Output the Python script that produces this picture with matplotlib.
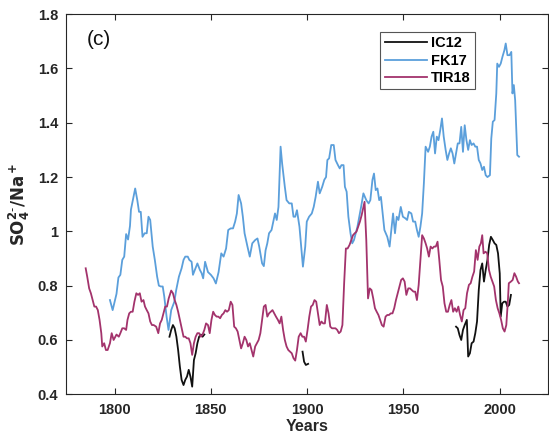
import numpy as np
import matplotlib
matplotlib.use("Agg")
import matplotlib.pyplot as plt

# ---------------- data ----------------
fk17_years = [1797.6, 1799, 1801, 1802, 1803, 1804, 1805, 1806, 1807, 1808, 1808.5, 1810.7, 1811.8, 1812.7,
              1813.6, 1814.5, 1815.6, 1816.7, 1817.6, 1818.5, 1819.8, 1820.9, 1822.1, 1823, 1824, 1825,
              1825.8, 1827, 1828, 1829.4, 1831, 1832, 1833.4, 1834.8, 1835.8, 1836.7, 1838, 1838.8, 1840,
              1840.7, 1841.7, 1843, 1844.3, 1845.2, 1846, 1847, 1848.5, 1850, 1851.4, 1852.6, 1854, 1855.4,
              1856.6, 1857.9, 1859, 1860.3, 1861.5, 1862.6, 1863.5, 1864.4, 1865.7, 1866.6, 1867.5, 1869,
              1870.2, 1871.5, 1873, 1874.2, 1875.1, 1876.6, 1877.5, 1878.4, 1879.3, 1880.2, 1881.5, 1882.6,
              1883.3, 1884.2, 1885.1, 1886.2, 1887, 1888.4, 1889.3, 1890.7, 1892, 1892.9, 1893.8, 1894.7,
              1896, 1896.9, 1897.8, 1899, 1899.8, 1901, 1902.4, 1903.4, 1904.4, 1905.6, 1906.5, 1907.8,
              1908.9, 1909.8, 1910.5, 1911.4, 1912.5, 1913.8, 1914.7, 1916, 1916.9, 1917.8, 1918.9, 1919.6,
              1920.5, 1921.4, 1922.5, 1923.4, 1924.3, 1925.2, 1926.1, 1926.9, 1928, 1929.2, 1930.7, 1931.9,
              1932.8, 1933.9, 1934.7, 1935.6, 1936.5, 1937.4, 1938.3, 1939.2, 1940.1, 1941.6, 1942.8, 1943.7,
              1944.6, 1945.6, 1946.5, 1947.4, 1948.6, 1949.7, 1951, 1951.9, 1952.8, 1954.1, 1955, 1956.1,
              1957, 1957.9, 1958.8, 1959.7, 1960.6, 1961.5, 1962.8, 1963.7, 1964.6, 1965.5, 1966.4, 1967.3,
              1968.2, 1969.1, 1970, 1970.9, 1971.9, 1972.8, 1973.7, 1974.6, 1975.5, 1976.4, 1977.3, 1978.2,
              1979.1, 1980, 1980.9, 1981.8, 1982.7, 1983.6, 1984.5, 1985.4, 1986.4, 1987.3, 1988.2, 1989.1,
              1990, 1990.9, 1991.8, 1992.7, 1993.6, 1994.9, 1995.6, 1996.4, 1997.3, 1998.2, 1998.7, 1999.6,
              2000.5, 2001.4, 2002.4, 2003.1, 2004, 2005.1, 2006, 2006.6, 2007.3, 2008, 2009.1, 2010]
fk17_values = [0.747, 0.71, 0.77, 0.83, 0.84, 0.895, 0.907, 0.99, 0.97, 1.02, 1.08, 1.158, 1.115, 1.072,
               1.072, 0.98, 0.993, 0.993, 1.054, 1.042, 0.944, 0.895, 0.833, 0.80, 0.797, 0.797,
               0.76, 0.686, 0.637, 0.71, 0.74, 0.784, 0.833, 0.864, 0.895, 0.907, 0.907, 0.895, 0.888,
               0.84, 0.858, 0.882, 0.858, 0.846, 0.827, 0.888, 0.85, 0.84, 0.827, 0.808, 0.85, 0.919,
               0.907, 0.937, 1.005, 1.011, 1.011, 1.036, 1.066, 1.134, 1.103, 1.054, 0.993, 0.944,
               0.907, 0.956, 0.968, 0.974, 0.944, 0.882, 0.872, 0.93, 0.956, 0.993, 1.005, 1.042,
               1.066, 1.042, 1.09, 1.312, 1.25, 1.164, 1.115, 1.103, 1.103, 1.054, 1.054, 1.078,
               1.017, 0.944, 0.87, 0.944, 1.036, 1.054, 1.066, 1.09, 1.127, 1.183, 1.14, 1.164,
               1.19, 1.20, 1.263, 1.269, 1.318, 1.318, 1.263, 1.244, 1.232, 1.244, 1.244, 1.164,
               1.146, 1.054, 0.993, 0.956, 0.968, 0.993, 1.017, 1.048, 1.09, 1.14, 1.115, 1.103,
               1.115, 1.19, 1.213, 1.152, 1.158, 1.115, 1.127, 1.066, 1.005, 0.98, 0.944, 1.005,
               1.066, 0.993, 1.054, 1.042, 1.09, 1.054, 1.048, 1.042, 1.072, 1.066, 1.036, 1.036,
               1.005, 0.98, 1.017, 1.066, 1.177, 1.312, 1.293, 1.312, 1.349, 1.367, 1.287, 1.349,
               1.336, 1.373, 1.416, 1.349, 1.30, 1.263, 1.287, 1.306, 1.287, 1.25, 1.287, 1.324,
               1.324, 1.385, 1.293, 1.391, 1.336, 1.30, 1.336, 1.318, 1.324, 1.312, 1.312, 1.263,
               1.25, 1.226, 1.238, 1.207, 1.20, 1.207, 1.342, 1.404, 1.41, 1.508, 1.618, 1.606,
               1.618, 1.643, 1.667, 1.692, 1.649, 1.649, 1.661, 1.508, 1.539, 1.483, 1.281, 1.275]

tir18_years = [1785, 1785.8, 1786.8, 1787.7, 1788.6, 1789.5, 1790.4, 1791.3, 1792.2, 1793.1, 1793.6, 1794.6,
               1795.5, 1796.4, 1797.6, 1798.5, 1799.5, 1801, 1802.2, 1803, 1804, 1805, 1806, 1806.7, 1807.6,
               1808.5, 1809.4, 1810.3, 1811.3, 1812.2, 1813.1, 1814, 1815, 1815.8, 1816.7, 1817.6, 1818.5,
               1819.4, 1820.3, 1821.6, 1822.7, 1823.6, 1824.5, 1825.4, 1826.3, 1827.2, 1828.1, 1829.4,
               1830.3, 1831.2, 1832.1, 1833, 1833.9, 1834.8, 1835.8, 1836.7, 1837.6, 1838.5, 1839.4, 1840.3,
               1841.2, 1842.1, 1843, 1843.9, 1844.8, 1845.7, 1846.6, 1847.5, 1848.5, 1849.4, 1850.3, 1851.2,
               1852.1, 1853, 1853.9, 1854.8, 1855.7, 1856.6, 1857.5, 1858.4, 1859.3, 1860.3, 1861.2, 1862.1,
               1863, 1863.9, 1864.8, 1865.7, 1866.6, 1867.5, 1868.4, 1869.3, 1870.2, 1871.1, 1872, 1873,
               1873.9, 1874.8, 1875.7, 1876.6, 1877.5, 1878.4, 1879.3, 1880.2, 1881.1, 1882, 1882.9, 1883.8,
               1884.8, 1885.7, 1886.6, 1887.5, 1888.4, 1889.3, 1890.2, 1891.1, 1892, 1892.9, 1893.8, 1894.7,
               1895.6, 1896.6, 1897.5, 1898.4, 1899.3, 1900.2, 1901.1, 1902, 1902.9, 1903.8, 1904.7, 1905.6,
               1906.5, 1907.4, 1908.3, 1909.2, 1910.2, 1911.1, 1912, 1912.9, 1913.8, 1914.7, 1915.6, 1916.5,
               1917.4, 1918.3, 1919.2, 1920.1, 1921, 1922, 1922.9, 1923.8, 1924.7, 1925.6, 1926.5, 1927.4,
               1928.3, 1929.2, 1929.8, 1930.7, 1931.6, 1932.5, 1933.4, 1934.3, 1935.2, 1936.1, 1937, 1937.9,
               1938.8, 1939.7, 1940.7, 1941.6, 1942.5, 1943.4, 1944.3, 1945.2, 1946.1, 1947, 1947.9, 1948.8,
               1949.7, 1950.6, 1951.5, 1952.5, 1953.4, 1954.3, 1955.2, 1956.1, 1957, 1957.9, 1958.8, 1959.7,
               1960.6, 1961.5, 1962.3, 1963.2, 1964.1, 1965, 1965.9, 1966.8, 1967.7, 1968.6, 1969.5, 1970.4,
               1971.3, 1972.2, 1973.1, 1974, 1974.9, 1975.8, 1976.7, 1977.6, 1978.5, 1979.4, 1980.3, 1981.2,
               1982.1, 1983, 1984, 1984.9, 1985.8, 1986.7, 1987.6, 1988.5, 1989.4, 1990.2, 1990.9, 1991.6,
               1992.6, 1993.5, 1994.4, 1995.3, 1996.2, 1997.1, 1998, 1998.9, 1999.8, 2000.7, 2001.6, 2002.5,
               2003.4, 2004.2, 2004.7, 2005.8, 2006.7, 2007.6, 2008.5, 2009.4, 2010]
tir18_values = [0.864, 0.833, 0.79, 0.772, 0.747, 0.723, 0.723, 0.71, 0.674, 0.625, 0.576, 0.588,
                0.563, 0.563, 0.588, 0.625, 0.60, 0.62, 0.612, 0.625, 0.643, 0.643, 0.637, 0.674, 0.698,
                0.704, 0.704, 0.741, 0.772, 0.766, 0.772, 0.741, 0.747, 0.723, 0.71, 0.698, 0.668,
                0.655, 0.655, 0.649, 0.625, 0.661, 0.674, 0.698, 0.723, 0.723, 0.753, 0.782,
                0.772, 0.747, 0.729, 0.704, 0.674, 0.643, 0.612, 0.612, 0.606, 0.606, 0.588, 0.545,
                0.588, 0.612, 0.625, 0.625, 0.612, 0.62, 0.637, 0.661, 0.655, 0.625, 0.674, 0.704,
                0.692, 0.686, 0.686, 0.68, 0.692, 0.698, 0.71, 0.704, 0.71, 0.741, 0.729, 0.649,
                0.643, 0.631, 0.60, 0.569, 0.588, 0.612, 0.60, 0.576, 0.588, 0.563, 0.539, 0.576,
                0.588, 0.60, 0.625, 0.674, 0.723, 0.729, 0.686, 0.698, 0.704, 0.71, 0.698, 0.686,
                0.674, 0.661, 0.686, 0.637, 0.60, 0.576, 0.563, 0.557, 0.551, 0.533, 0.524, 0.563,
                0.612, 0.625, 0.612, 0.612, 0.594, 0.637, 0.686, 0.723, 0.729, 0.747, 0.741, 0.698,
                0.655, 0.668, 0.661, 0.661, 0.729, 0.698, 0.649, 0.643, 0.643, 0.643, 0.637, 0.625,
                0.631, 0.655, 0.809, 0.937, 0.937, 0.95, 0.968, 0.986, 0.993, 0.999, 1.017, 1.036,
                1.06, 1.09, 1.109, 0.968, 0.753, 0.79, 0.784, 0.753, 0.717, 0.704, 0.692, 0.674,
                0.655, 0.649, 0.686, 0.692, 0.692, 0.698, 0.698, 0.717, 0.747, 0.772, 0.797, 0.821,
                0.827, 0.815, 0.766, 0.79, 0.79, 0.784, 0.778, 0.778, 0.747, 0.803, 0.895, 0.986,
                0.974, 0.956, 0.937, 0.907, 0.944, 0.937, 0.944, 0.944, 0.962, 0.895, 0.821, 0.797,
                0.735, 0.704, 0.704, 0.729, 0.747, 0.704, 0.717, 0.704, 0.723, 0.692, 0.668, 0.71,
                0.717, 0.772, 0.803, 0.809, 0.833, 0.852, 0.931, 0.895, 0.944, 0.956, 0.986, 0.919,
                0.925, 0.919, 0.858, 0.833, 0.815, 0.797, 0.747, 0.717, 0.698, 0.674, 0.643, 0.631,
                0.655, 0.741, 0.809, 0.815, 0.821, 0.846, 0.833, 0.815, 0.809]

# IC12 has gaps (NaN separates the three segments)
ic12_years = [1828.5, 1829.4, 1830.3, 1831.2, 1832.1, 1833, 1833.9, 1834.8, 1835.8, 1836.7, 1837.6, 1838.5,
              1839.4, 1840.3, 1841.2, 1842.1, 1843, 1843.9, 1844.8, 1845.7, 1846.6, np.nan,
              1897.6, 1898.4, 1899.3, 1900.5, np.nan,
              1977.3, 1978.2, 1979.1, 1980, 1980.9, 1981.8, 1982.9, 1983.6, 1984.5, 1985.4, 1986.4, 1987.3,
              1988.2, 1989.1, 1990, 1990.9, 1991.8, 1992.7, 1993.6, 1994.5, 1995.4, 1996.4, 1997.3, 1998.2,
              1999.1, 2000, 2000.5, 2001.3, 2002.2, 2003.1, 2004, 2004.9, 2005.8]
ic12_values = [0.612, 0.637, 0.655, 0.643, 0.612, 0.563, 0.502, 0.453, 0.434, 0.453, 0.465, 0.49,
               0.465, 0.428, 0.526, 0.551, 0.588, 0.612, 0.62, 0.612, 0.62, np.nan,
               0.557, 0.52, 0.508, 0.512, np.nan,
               0.649, 0.643, 0.618, 0.60, 0.637, 0.655, 0.674, 0.539, 0.551, 0.588, 0.594, 0.625,
               0.668, 0.784, 0.858, 0.882, 0.815, 0.858, 0.895, 0.95, 0.98, 0.968, 0.956, 0.95,
               0.919, 0.845, 0.686, 0.735, 0.741, 0.741, 0.723, 0.729, 0.766]

series_labels = ["IC12", "FK17", "TIR18"]
x_ticks = [1800, 1850, 1900, 1950, 2000]
y_ticks = [0.4, 0.6, 0.8, 1.0, 1.2, 1.4, 1.6, 1.8]
y_ticklabels = ["0.4", "0.6", "0.8", "1", "1.2", "1.4", "1.6", "1.8"]

# ---------------- plot ----------------
plt.rcParams['font.family'] = ['Liberation Sans', 'DejaVu Sans']

fig = plt.figure(figsize=(5.49, 4.43), dpi=100)
ax = fig.add_axes([0.121, 0.110, 0.877, 0.858])

c_ic = "#111111"
c_fk = "#5B9FDB"
c_tir = "#A3336C"

ax.plot(ic12_years, ic12_values, color=c_ic, lw=1.3, label=series_labels[0])
ax.plot(fk17_years, fk17_values, color=c_fk, lw=1.3, label=series_labels[1])
ax.plot(tir18_years, tir18_values, color=c_tir, lw=1.3, label=series_labels[2])

ax.set_xlim(1775, 2025)
ax.set_ylim(0.4, 1.8)
ax.set_xticks(x_ticks)
ax.set_yticks(y_ticks)
ax.set_yticklabels(y_ticklabels)

ax.tick_params(direction='in', length=4, width=0.8, top=True, right=True,
               labelsize=10.5, colors='#262626', pad=6)
for lab in ax.get_xticklabels() + ax.get_yticklabels():
    lab.set_fontweight('bold')
for sp in ax.spines.values():
    sp.set_color('#262626')
    sp.set_linewidth(0.8)

ax.set_xlabel("Years", fontsize=11.5, fontweight='bold', color='#262626', labelpad=2)
ax.set_ylabel(r"$\mathbf{SO_4^{2\text{-}}/Na^+}$", fontsize=12, color='#262626', labelpad=4)

ax.text(1792, 1.707, "(c)", fontsize=15, ha='center', va='center', color='#111111')

leg = ax.legend(loc='upper right', bbox_to_anchor=(0.849, 0.953), fontsize=10.5,
                handlelength=2.9, handletextpad=0.3, labelspacing=0.22, borderpad=0.3,
                borderaxespad=0, fancybox=False, framealpha=1, edgecolor='#555555',
                prop={'weight': 'bold', 'size': 10.5})
leg.get_frame().set_linewidth(0.8)

fig.savefig("out.png", dpi=100)
